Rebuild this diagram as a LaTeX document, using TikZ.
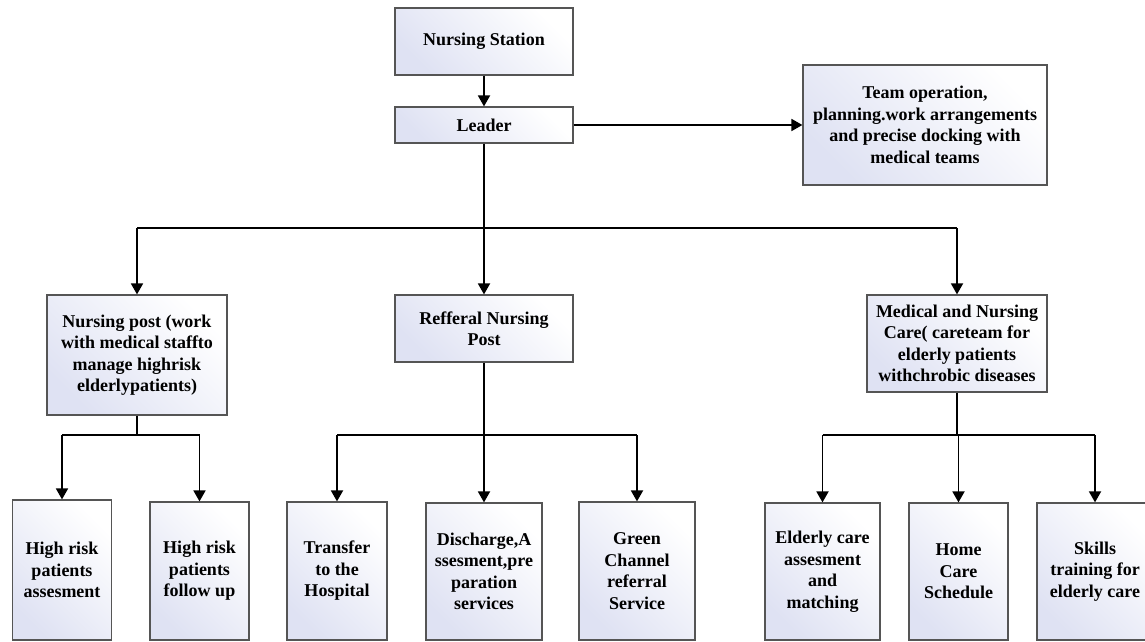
\documentclass[tikz,border=0pt]{standalone}
\usepackage{fontspec}
\setmainfont{Liberation Serif}
\usetikzlibrary{arrows.meta}
\definecolor{lav}{HTML}{DFE2F3}
\definecolor{bordergray}{HTML}{555555}
\tikzset{
  box/.style={draw=bordergray, line width=1.2pt, left color=lav, right color=white,
    shading angle=135, inner sep=0pt, align=center,
    font=\fontsize{18}{21.5}\selectfont\bfseries},
  wire/.style={line width=1.8pt, black},
  conn/.style={wire, -{Triangle[length=11pt,width=12pt]}},
}
\begin{document}
\begin{tikzpicture}[x=1pt,y=-1pt]
\clip (0,0) rectangle (1145,642);
\fill[white] (0,0) rectangle (1145,642);
% top
\node[box, minimum width=178pt, minimum height=67pt] (ns) at (484,41.5) {Nursing Station};
\node[box, minimum width=178pt, minimum height=36pt] (ld) at (484,125) {Leader};
\node[box, minimum width=244pt, minimum height=120pt] (team) at (925,125) {Team operation,\\ planning.work arrangements\\ and precise docking with\\ medical teams};
% middle
\node[box, minimum width=180pt, minimum height=120pt] (np) at (137,355) {Nursing post (work\\ with medical staffto\\ manage highrisk\\ elderlypatients)};
\node[box, minimum width=178pt, minimum height=67pt] (rp) at (484,328.5) {Refferal Nursing\\ Post};
\node[box, minimum width=180pt, minimum height=97pt] (mc) at (957,343.5) {Medical and Nursing\\ Care( careteam for\\ elderly patients\\ withchrobic diseases};
% bottom
\node[box, minimum width=99pt, minimum height=140pt] (a1) at (62,570) {High risk\\ patients\\ assesment};
\node[box, minimum width=99pt, minimum height=138pt] (a2) at (199.5,571) {High risk\\ patients\\ follow up};
\node[box, minimum width=100pt, minimum height=138pt] (b1) at (337,571) {Transfer\\ to the\\ Hospital};
\node[box, minimum width=116pt, minimum height=137pt] (b2) at (484,571.5) {Discharge,A\\ ssesment,pre\\ paration\\ services};
\node[box, minimum width=116pt, minimum height=138pt] (b3) at (637,571) {Green\\ Channel\\ referral\\ Service};
\node[box, minimum width=115pt, minimum height=137pt] (c1) at (822.5,571.5) {Elderly care\\ assesment\\ and\\ matching};
\node[box, minimum width=99pt, minimum height=137pt] (c2) at (958.5,571.5) {Home\\ Care\\ Schedule};
\node[box, minimum width=116pt, minimum height=137pt] (c3) at (1095,571.5) {Skills\\ training for\\ elderly care};
% buses
\coordinate (bus0) at (484,228);
\coordinate (busA) at (137,435);
\coordinate (busB) at (484,435);
\coordinate (busC) at (957,435);
% connectors
\draw[conn] (ns) -- (ld);
\draw[conn] (ld) -- (team);
\draw[conn] (ld) -- (rp);
\draw[wire] (np.north |- bus0) -- (mc.north |- bus0);
\draw[conn] (np.north |- bus0) -- (np);
\draw[conn] (mc.north |- bus0) -- (mc);
\draw[wire] (np) -- (busA);
\draw[wire] (a1.north |- busA) -- (a2.north |- busA);
\draw[conn] (a1.north |- busA) -- (a1);
\draw[conn] (a2.north |- busA) -- (a2);
\draw[wire] (rp) -- (busB);
\draw[wire] (b1.north |- busB) -- (b3.north |- busB);
\draw[conn] (b1.north |- busB) -- (b1);
\draw[conn] (busB) -- (b2);
\draw[conn] (b3.north |- busB) -- (b3);
\draw[wire] (mc) -- (busC);
\draw[wire] (c1.north |- busC) -- (c3.north |- busC);
\draw[conn] (c1.north |- busC) -- (c1);
\draw[conn] (c2.north |- busC) -- (c2);
\draw[conn] (c3.north |- busC) -- (c3);
\end{tikzpicture}
\end{document}
